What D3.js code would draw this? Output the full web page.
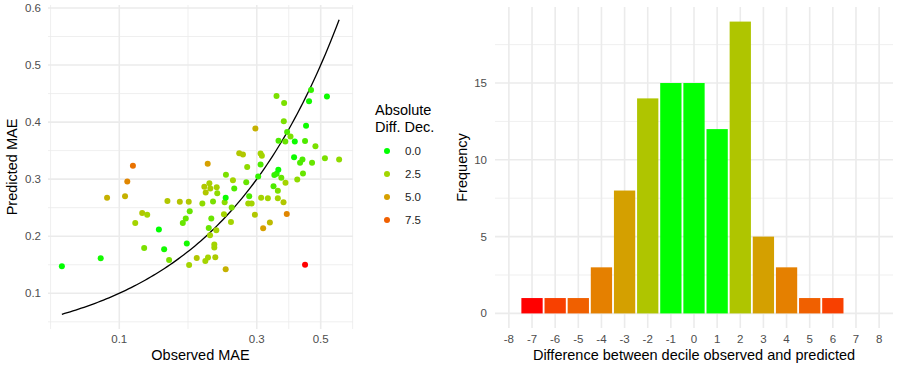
<!DOCTYPE html>
<html>
<head>
<meta charset="utf-8">
<script src="https://cdn.jsdelivr.net/npm/d3@7"></script>
<style>
  body { margin: 0; background: #fff; }
  svg text { font-family: "Liberation Sans", Arial, sans-serif; }
</style>
</head>
<body>
<svg id="chart" width="900" height="370"></svg>
<script>
// scatter: observed vs predicted MAE, coloured by absolute decile difference
var observed = [0.0632,0.0862,0.0907,0.1047,0.1066,0.1115,0.1136,0.1201,0.1250,0.1220,
  0.1372,0.1431,0.1469,0.1489,0.1622,0.1661,0.1701,0.1715,0.1742,0.1747,
  0.1756,0.1857,0.1942,0.1973,0.1989,0.1995,0.2027,0.2032,0.2044,0.2054,
  0.2065,0.2070,0.2086,0.2115,0.2137,0.2137,0.2154,0.2171,0.2178,0.2188,
  0.2308,0.2321,0.2340,0.2340,0.2345,0.2441,0.2455,0.2480,0.2506,0.2608,
  0.2686,0.2758,0.2779,0.2802,0.2824,0.2879,0.2955,0.2967,0.3034,0.3093,
  0.3093,0.3125,0.3107,0.3157,0.3278,0.3331,0.3430,0.3452,0.3516,0.3513,
  0.3550,0.3550,0.3564,0.3569,0.3650,0.3715,0.3723,0.3733,0.3768,0.3774,
  0.3813,0.3823,0.3928,0.4042,0.4065,0.4146,0.4240,0.4322,0.4340,0.4412,
  0.4412,0.4448,0.4556,0.4629,0.4666,0.4794,0.5172,0.5256,0.5794];
var predicted = [0.1474,0.1614,0.2672,0.2702,0.2960,0.3233,0.2233,0.2409,0.2374,0.1795,
  0.2118,0.1772,0.2619,0.1584,0.2602,0.2233,0.2311,0.1872,0.2602,0.1496,
  0.2439,0.1619,0.2574,0.2865,0.1567,0.2767,0.3268,0.1626,0.2146,0.2930,
  0.2018,0.2837,0.2311,0.2609,0.1854,0.1802,0.1632,0.2105,0.2860,0.2754,
  0.2386,0.2596,0.2672,0.1421,0.3075,0.2251,0.2504,0.2982,0.2837,0.3456,
  0.3433,0.2947,0.3211,0.2574,0.2702,0.2574,0.2374,0.3886,0.3047,0.3258,
  0.3451,0.3412,0.2672,0.2140,0.2667,0.2240,0.2877,0.3074,0.3096,0.4456,
  0.2795,0.2667,0.3163,0.3672,0.3026,0.2596,0.4014,0.4333,0.3661,0.2939,
  0.2391,0.3825,0.3746,0.3386,0.3661,0.2996,0.3286,0.3346,0.3100,0.3667,
  0.1500,0.3935,0.4365,0.4561,0.3286,0.3575,0.3365,0.4447,0.3346];
var absDiff = [0,0.3,4.2,4.2,6,6.8,2.6,3.2,2.6,1.9,
  0,0.3,3.2,1.9,3.4,1.6,1.6,0.3,3.2,2.6,
  1.6,3.2,2.2,3.2,2.6,3.2,5,2.6,1.6,2.8,
  2.6,3.0,1.6,1.9,2.6,2.6,3.0,2.6,2.8,2.2,
  2.6,2.2,0.2,4.2,1.9,2.6,1.9,2.6,1.2,3.2,
  3.2,1.6,2.2,2.6,1.2,2.6,3.2,4.2,0.8,1.2,
  2.6,2.6,2.6,5,2.6,3.8,1.2,0.8,0.8,1.9,
  1.9,2.6,0.2,1.2,1.6,3.2,1.9,1.9,1.6,2.6,
  6,1.2,1.9,0.2,0.2,2.2,1.2,1.2,1.6,1.2,
  9,0.2,0.3,0.8,1.6,1.9,1.9,0.2,2.2];

var xTicks = [0.1, 0.3, 0.5];
var yTicks = [0.1, 0.2, 0.3, 0.4, 0.5, 0.6];
var legendBreaks = [0, 2.5, 5, 7.5];

// histogram of signed decile difference
var diffs = [-7,-6,-5,-4,-3,-2,-1,0,1,2,3,4,5,6];
var counts = [1,1,1,3,8,14,15,15,12,19,5,3,1,1];
var diffTicks = d3.range(-8, 9);
var freqTicks = [0, 5, 10, 15];
var barColors = ["#00ff00","#00ff00","#afc500","#d4a000","#e58000","#f06000","#f84000","#ff0000"];

var svg = d3.select("#chart");
var gridCol = "#ebebeb", tickCol = "#4d4d4d";

// ---------- left panel ----------
var L = {left: 48, right: 353, top: 5, bottom: 329};

var xExt = d3.extent(observed).map(Math.log10);
var xPad = (xExt[1] - xExt[0]) * 0.05;
var x = d3.scaleLog()
  .domain([Math.pow(10, xExt[0] - xPad), Math.pow(10, xExt[1] + xPad)])
  .range([L.left, L.right]);

var yLo = Math.min(d3.min(predicted), d3.min(observed));
var yHi = Math.max(d3.max(predicted), d3.max(observed));
var yPad = (yHi - yLo) * 0.05;
var y = d3.scaleLinear().domain([yLo - yPad, yHi + yPad]).range([L.bottom, L.top]);

var colour = d3.scaleLinear()
  .domain([0, 2.5, 5, 7.5, 9])
  .range(["#00ff00", "#a2d600", "#d6a000", "#f06000", "#ff0000"]);

var left = svg.append("g");

// minor grid: halfway between majors (log space for x)
var xMinor = [];
var lx = xTicks.map(Math.log10);
xMinor.push(Math.pow(10, lx[0] - (lx[1] - lx[0]) / 2));
for (var i = 0; i < lx.length - 1; i++) xMinor.push(Math.pow(10, (lx[i] + lx[i + 1]) / 2));
xMinor.push(Math.pow(10, lx[2] + (lx[2] - lx[1]) / 2));
xMinor = xMinor.filter(function(d) { return x(d) >= L.left && x(d) <= L.right; });
var yMinor = d3.range(0.05, 0.6, 0.1).filter(function(d) { return y(d) >= L.top && y(d) <= L.bottom; });

left.selectAll(".xmin").data(xMinor).enter().append("line")
  .attr("x1", x).attr("x2", x).attr("y1", L.top).attr("y2", L.bottom)
  .attr("stroke", gridCol).attr("stroke-width", 0.8);
left.selectAll(".ymin").data(yMinor).enter().append("line")
  .attr("x1", L.left).attr("x2", L.right).attr("y1", y).attr("y2", y)
  .attr("stroke", gridCol).attr("stroke-width", 0.8);
left.selectAll(".xmaj").data(xTicks).enter().append("line")
  .attr("x1", x).attr("x2", x).attr("y1", L.top).attr("y2", L.bottom)
  .attr("stroke", gridCol).attr("stroke-width", 1.6);
left.selectAll(".ymaj").data(yTicks).enter().append("line")
  .attr("x1", L.left).attr("x2", L.right).attr("y1", y).attr("y2", y)
  .attr("stroke", gridCol).attr("stroke-width", 1.6);

// identity line
var lineX = d3.range(0, 101).map(function(i) {
  return Math.pow(10, xExt[0] + (xExt[1] - xExt[0]) * i / 100);
});
left.append("path")
  .datum(lineX)
  .attr("d", d3.line().x(function(d) { return x(d); }).y(function(d) { return y(d); }))
  .attr("fill", "none").attr("stroke", "#000").attr("stroke-width", 1.3);

left.selectAll("circle.pt").data(observed).enter().append("circle")
  .attr("class", "pt")
  .attr("cx", function(d) { return x(d); })
  .attr("cy", function(d, i) { return y(predicted[i]); })
  .attr("r", 3)
  .attr("fill", function(d, i) { return colour(absDiff[i]); });

left.selectAll(".xlab").data(xTicks).enter().append("text")
  .attr("x", x).attr("y", 343).attr("text-anchor", "middle")
  .attr("font-size", "11.5px").attr("fill", tickCol).text(function(d) { return d; });
left.selectAll(".ylab").data(yTicks).enter().append("text")
  .attr("x", 41).attr("y", function(d) { return y(d) + 4; }).attr("text-anchor", "end")
  .attr("font-size", "11.5px").attr("fill", tickCol).text(function(d) { return d.toFixed(1); });

left.append("text").attr("x", (L.left + L.right) / 2).attr("y", 360)
  .attr("text-anchor", "middle").attr("font-size", "14.5px").text("Observed MAE");
left.append("text")
  .attr("transform", "translate(17," + (L.top + L.bottom) / 2 + ") rotate(-90)")
  .attr("text-anchor", "middle").attr("font-size", "14.5px").text("Predicted MAE");

// legend
var leg = svg.append("g").attr("transform", "translate(375,0)");
leg.append("text").attr("x", 0).attr("y", 115).attr("font-size", "14.5px").text("Absolute");
leg.append("text").attr("x", 0).attr("y", 132).attr("font-size", "14.5px").text("Diff. Dec.");
leg.selectAll("circle").data(legendBreaks).enter().append("circle")
  .attr("cx", 12).attr("cy", function(d, i) { return 151 + i * 23; })
  .attr("r", 3).attr("fill", function(d) { return colour(d); });
leg.selectAll(".lt").data(legendBreaks).enter().append("text")
  .attr("x", 30).attr("y", function(d, i) { return 155 + i * 23; })
  .attr("font-size", "11.5px").attr("fill", "#222").text(function(d) { return d.toFixed(1); });

// ---------- right panel ----------
var R = {left: 495, right: 893, top: 7, bottom: 328};
var hx = d3.scaleLinear().domain([-8.6, 8.6]).range([R.left, R.right]);
var cMax = d3.max(counts);
var hy = d3.scaleLinear().domain([-cMax * 0.05, cMax * 1.05]).range([R.bottom, R.top]);

var right = svg.append("g");
var hMinor = [2.5, 7.5, 12.5, 17.5];
right.selectAll(".hmin").data(hMinor).enter().append("line")
  .attr("x1", R.left).attr("x2", R.right).attr("y1", hy).attr("y2", hy)
  .attr("stroke", gridCol).attr("stroke-width", 0.8);
right.selectAll(".hmaj").data(freqTicks).enter().append("line")
  .attr("x1", R.left).attr("x2", R.right).attr("y1", hy).attr("y2", hy)
  .attr("stroke", gridCol).attr("stroke-width", 1.6);
right.selectAll(".vmaj").data(diffTicks).enter().append("line")
  .attr("x1", hx).attr("x2", hx).attr("y1", R.top).attr("y2", R.bottom)
  .attr("stroke", gridCol).attr("stroke-width", 1.6);

right.selectAll("rect").data(diffs).enter().append("rect")
  .attr("x", function(d) { return hx(d - 0.46); })
  .attr("width", hx(0.46) - hx(-0.46))
  .attr("y", function(d, i) { return hy(counts[i]); })
  .attr("height", function(d, i) { return hy(0) - hy(counts[i]); })
  .attr("fill", function(d) { return barColors[Math.abs(d)]; });

right.selectAll(".dl").data(diffTicks).enter().append("text")
  .attr("x", hx).attr("y", 343).attr("text-anchor", "middle")
  .attr("font-size", "11.5px").attr("fill", tickCol).text(function(d) { return d; });
right.selectAll(".fl").data(freqTicks).enter().append("text")
  .attr("x", 487).attr("y", function(d) { return hy(d) + 4; }).attr("text-anchor", "end")
  .attr("font-size", "11.5px").attr("fill", tickCol).text(function(d) { return d; });

right.append("text").attr("x", (R.left + R.right) / 2).attr("y", 360)
  .attr("text-anchor", "middle").attr("font-size", "14.5px")
  .text("Difference between decile observed and predicted");
right.append("text")
  .attr("transform", "translate(467," + (R.top + R.bottom) / 2 + ") rotate(-90)")
  .attr("text-anchor", "middle").attr("font-size", "14.5px").text("Frequency");
</script>
</body>
</html>
